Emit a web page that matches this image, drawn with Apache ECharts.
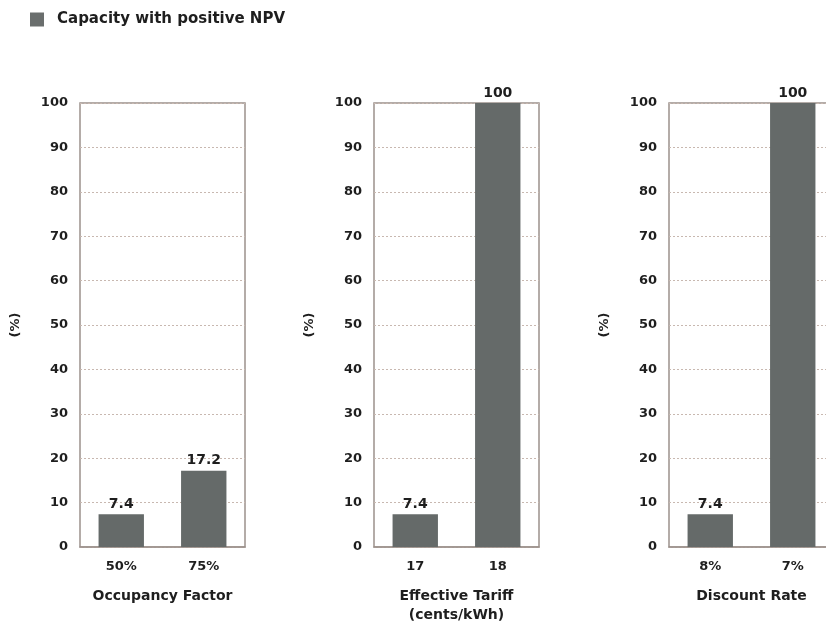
<!DOCTYPE html>
<html><head><meta charset="utf-8">
<script src="https://cdn.jsdelivr.net/npm/echarts@6/dist/echarts.min.js"></script>
<style>html,body{margin:0;padding:0;background:#fff}#c{width:826px;height:622px}</style>
</head><body><div id="c"></div>
<script>
const seriesName = 'Capacity with positive NPV';
const panelTitles = ['Occupancy Factor', 'Effective Tariff\n(cents/kWh)', 'Discount Rate'];
const categories1 = ['50%', '75%'];
const categories2 = ['17', '18'];
const categories3 = ['8%', '7%'];
const values1 = [7.4, 17.2];
const values2 = [7.4, 100];
const values3 = [7.4, 100];
const yTicks = [0, 10, 20, 30, 40, 50, 60, 70, 80, 90, 100];

const cats = [categories1, categories2, categories3];
const vals = [values1, values2, values3];
const lefts = [80, 374, 669];
const FONT = 'DejaVu Sans, Verdana, sans-serif';
const txt = '#1e1e1e';

const chart = echarts.init(document.getElementById('c'), null, {renderer: 'canvas'});
const grids = [], xAxes = [], yAxes = [], series = [];
for (let i = 0; i < 3; i++) {
  grids.push({left: lefts[i], top: 103, width: 165, height: 444, show: true, borderColor: '#9c918c', borderWidth: 1.5,
    backgroundColor: 'transparent', containLabel: false, outerBoundsMode: 'none'});
  xAxes.push({type: 'category', gridIndex: i, data: cats[i],
    axisLine: {show: true, lineStyle: {color: '#9c918c', width: 1.5}}, axisTick: {show: false},
    axisLabel: {color: txt, fontFamily: FONT, fontWeight: 'bold', fontSize: 13, margin: 13},
    name: panelTitles[i], nameLocation: 'middle', nameGap: 40,
    nameTextStyle: {color: txt, fontFamily: FONT, fontWeight: 'bold', fontSize: 14, lineHeight: 19}});
  yAxes.push({type: 'value', gridIndex: i, min: 0, max: yTicks[yTicks.length - 1], interval: 10,
    axisLine: {show: false}, axisTick: {show: false},
    splitLine: {show: true, lineStyle: {color: '#c8b8b0', type: [2, 2], width: 1}},
    axisLabel: {color: txt, fontFamily: FONT, fontWeight: 'bold', fontSize: 13, margin: 12},
    name: '(%)', nameLocation: 'middle', nameGap: 58, nameRotate: 90,
    nameTextStyle: {color: txt, fontFamily: FONT, fontWeight: 'bold', fontSize: 13}});
  series.push({name: seriesName, type: 'bar', xAxisIndex: i, yAxisIndex: i, data: vals[i],
    barWidth: '55%', itemStyle: {color: '#656a69'},
    label: {show: true, position: 'top', distance: 3, color: txt, fontFamily: FONT, fontWeight: 'bold', fontSize: 14},
    emphasis: {disabled: true}, animation: false});
}
chart.setOption({
  animation: false,
  backgroundColor: '#fff',
  legend: {show: true, data: [seriesName], left: 25, top: 7, icon: 'rect', itemWidth: 14, itemHeight: 14, itemGap: 10,
    itemStyle: {color: '#6a6e6d'},
    textStyle: {color: txt, fontFamily: FONT, fontWeight: 'bold', fontSize: 15, padding: [0, 0, 0, 8]}},
  grid: grids, xAxis: xAxes, yAxis: yAxes, series: series
});
</script></body></html>
